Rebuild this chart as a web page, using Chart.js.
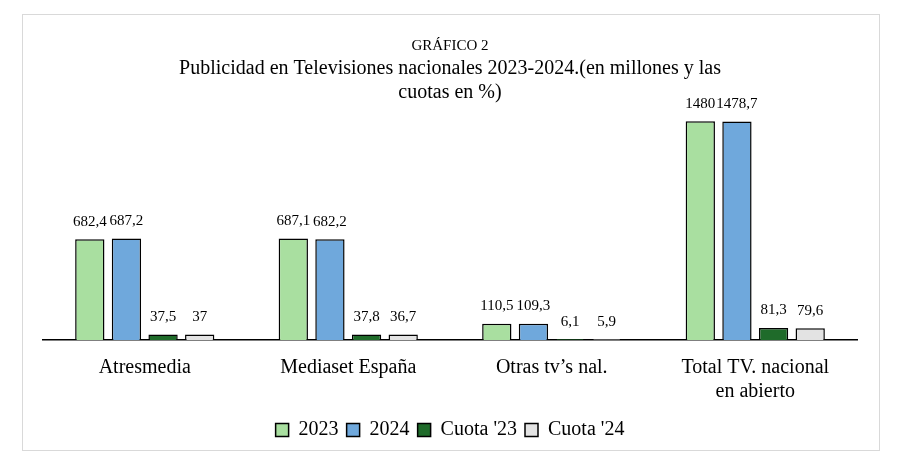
<!DOCTYPE html>
<html><head><meta charset="utf-8">
<script src="https://cdn.jsdelivr.net/npm/chart.js@4"></script>
<style>
body{margin:0;background:#fff;}
#box{position:absolute;left:22px;top:14px;width:856px;height:435px;border:1px solid #d9d9d9;}
</style></head><body>
<div id="box"><canvas id="c" width="856" height="435"></canvas></div>
<script>
var categories = [['Atresmedia'], ['Mediaset España'], ['Otras tv’s nal.'], ['Total TV. nacional', 'en abierto']];
var v2023 = [682.4, 687.1, 110.5, 1480];
var v2024 = [687.2, 682.2, 109.3, 1478.7];
var cuota23 = [37.5, 37.8, 6.1, 81.3];
var cuota24 = [37, 36.7, 5.9, 79.6];

var font = 'Liberation Serif';
var fmt = function (v) { return String(v).replace('.', ','); };

var valueLabels = {
  id: 'valueLabels',
  afterDatasetsDraw: function (chart) {
    var ctx = chart.ctx;
    ctx.save();
    ctx.font = '15px "' + font + '"';
    ctx.fillStyle = '#000';
    ctx.textAlign = 'center';
    ctx.textBaseline = 'bottom';
    chart.data.datasets.forEach(function (ds, i) {
      chart.getDatasetMeta(i).data.forEach(function (bar, j) {
        ctx.fillText(fmt(ds.data[j]), bar.x, bar.y - 10);
      });
    });
    ctx.restore();
  }
};

new Chart(document.getElementById('c'), {
  type: 'bar',
  data: {
    labels: categories,
    datasets: [
      { label: '2023', data: v2023, backgroundColor: '#A9DFA0' },
      { label: '2024', data: v2024, backgroundColor: '#6FA8DC' },
      { label: "Cuota '23", data: cuota23, backgroundColor: '#1F6B2A' },
      { label: "Cuota '24", data: cuota24, backgroundColor: '#E3E3E3' }
    ].map(function (d) {
      d.borderColor = '#000'; d.borderWidth = 1.5;
      d.categoryPercentage = 0.72; d.barPercentage = 0.8;
      return d;
    })
  },
  plugins: [valueLabels],
  options: {
    responsive: false,
    animation: false,
    devicePixelRatio: 1,
    layout: { padding: { left: 20, right: 22, top: 10, bottom: 0 } },
    plugins: {
      title: { display: true, text: 'GRÁFICO 2', color: '#000', font: { family: font, size: 15, weight: 'normal' }, padding: { top: 12, bottom: 2 } },
      subtitle: { display: true, text: ['Publicidad en Televisiones nacionales 2023-2024.(en millones y las', 'cuotas en %)'], color: '#000', font: { family: font, size: 20 }, padding: { bottom: 0 } },
      legend: { position: 'bottom', labels: { color: '#000', font: { family: font, size: 20 }, boxWidth: 13, boxHeight: 13, padding: 8 } },
      tooltip: { enabled: false }
    },
    scales: {
      x: {
        grid: { display: false },
        border: { color: '#000', width: 1.5 },
        ticks: { color: '#000', font: { family: font, size: 20 }, padding: 8 }
      },
      y: { display: false, min: 0, max: 1590 }
    }
  }
});
</script>
</body></html>
